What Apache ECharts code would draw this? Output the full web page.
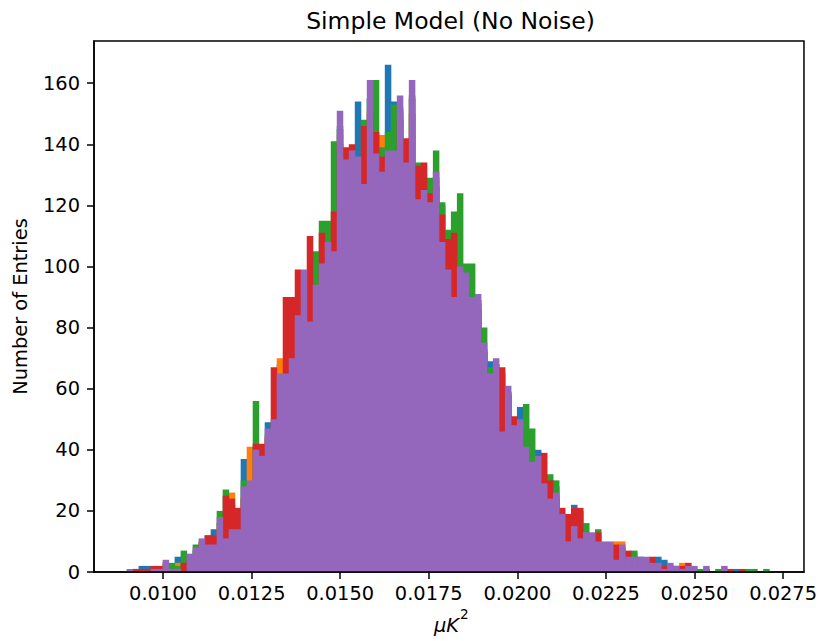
<!DOCTYPE html>
<html>
<head>
<meta charset="utf-8">
<script src="https://cdn.jsdelivr.net/npm/echarts@6/dist/echarts.min.js"></script>
<style>html,body{margin:0;padding:0;background:#fff;}#chart{width:820px;height:641px;}</style>
</head>
<body>
<div id="chart"></div>
<script>
// ---- data (histogram counts per bin, shared bin grid) ----
const binStart = 0.0089715;
const binWidth = 0.0001695;

const xTickValues = [0.0100, 0.0125, 0.0150, 0.0175, 0.0200, 0.0225, 0.0250, 0.0275];
const yTickValues = [0, 20, 40, 60, 80, 100, 120, 140, 160];

const blueCounts = [0,1,2,2,1,1,3,1,5,2,
 5,7,10,12,14,16,20,22,13,37,
 35,39,37,49,48,68,62,67,81,96,
 80,92,100,105,103,145,131,135,154,125,
 155,135,141,166,154,152,131,156,121,123,
 119,129,120,97,89,98,95,88,89,73,
 69,68,45,59,47,54,40,35,40,28,
 23,28,18,9,22,20,12,12,10,9,
 9,4,8,4,5,5,4,4,5,4,
 2,2,1,1,1,0,1,0,0,1,
 0,1];

const orangeCounts = [0,0,1,1,1,1,3,1,3,2,
 5,7,10,11,10,16,20,26,14,25,
 41,38,36,44,46,70,62,66,80,95,
 78,90,98,104,102,143,130,134,130,124,
 152,133,143,135,134,150,130,155,120,122,
 118,128,105,95,88,96,94,87,88,72,
 63,67,44,58,46,47,39,34,36,28,
 23,25,18,9,14,10,12,12,9,9,
 9,10,10,4,6,4,4,2,2,1,
 2,1,3,1,1,0,1,0,0,1];

const greenCounts = [0,0,0,0,0,1,2,3,2,7,
 5,9,10,8,8,20,27,22,13,30,
 29,56,36,45,48,62,64,68,80,96,
 80,105,115,115,141,146,132,135,133,148,
 155,161,139,144,153,151,140,155,134,120,
 129,138,121,112,118,124,101,101,88,80,
 67,68,65,59,46,48,55,47,35,32,
 32,30,18,9,14,10,16,12,14,9,
 9,4,8,4,7,4,4,2,2,1,
 2,2,1,1,1,1,1,0,1,1,
 0,0,0,1,1,0,1];

const redCounts = [0,1,1,1,2,2,2,1,0,3,
 4,6,9,12,12,14,25,24,21,24,
 28,42,42,44,67,60,90,90,99,92,
 110,90,111,104,118,140,139,140,130,146,
 150,144,136,132,135,148,142,150,133,134,
 124,126,117,109,111,95,92,88,86,72,
 64,66,67,58,51,47,40,34,36,39,
 30,24,21,19,21,21,12,11,13,9,
 8,9,7,7,4,4,4,5,2,2,
 2,1,2,3,1,0,1,0,0,1,
 1,0,1];

const purpleCounts = [1,0,0,0,1,1,4,1,1,0,
 6,8,11,9,9,18,11,14,14,28,
 30,40,38,47,50,65,65,70,84,99,
 82,94,101,108,105,151,135,138,136,127,
 161,137,131,138,138,156,134,161,122,125,
 121,131,108,99,90,100,98,90,91,75,
 65,70,46,61,48,50,41,36,38,29,
 24,26,19,10,15,11,13,13,10,10,
 10,4,9,5,5,5,5,3,3,1,
 3,2,1,2,2,0,2,0,0,2];

const seriesDefs = [
  { name: 'blue', color: '#1f77b4', counts: blueCounts },
  { name: 'orange', color: '#ff7f0e', counts: orangeCounts },
  { name: 'green', color: '#2ca02c', counts: greenCounts },
  { name: 'red', color: '#d62728', counts: redCounts },
  { name: 'purple', color: '#9467bd', counts: purpleCounts }
];

const xMin = 0.0080524, xMax = 0.02809;
const yMin = 0, yMax = 173.8;

function toBars(counts) {
  const out = [];
  counts.forEach((c, k) => {
    if (c > 0) out.push([binStart + k * binWidth, binStart + (k + 1) * binWidth, c]);
  });
  return out;
}

const FONT = '"DejaVu Sans", "Liberation Sans", sans-serif';

const chart = echarts.init(document.getElementById('chart'), null, { renderer: 'svg' });

const option = {
  animation: false,
  backgroundColor: '#ffffff',
  grid: { left: 94, top: 41, width: 713, height: 531, show: true, borderColor: '#000', borderWidth: 1.5, backgroundColor: 'transparent', containLabel: false },
  xAxis: {
    type: 'value', min: xMin, max: xMax, z: 10,
    axisLine: { show: true, onZero: false, lineStyle: { color: '#000', width: 1.5 } },
    axisTick: { show: true, inside: false, length: 7, lineStyle: { color: '#000', width: 1.5 }, customValues: xTickValues },
    axisLabel: { show: true, customValues: xTickValues, formatter: v => Number(v).toFixed(4), color: '#000', fontSize: 19.4, fontFamily: FONT, margin: 12 },
    splitLine: { show: false }
  },
  yAxis: {
    type: 'value', min: yMin, max: yMax, z: 10,
    axisLine: { show: true, onZero: false, lineStyle: { color: '#000', width: 1.5 } },
    axisTick: { show: true, inside: false, length: 7, lineStyle: { color: '#000', width: 1.5 }, customValues: yTickValues },
    axisLabel: { show: true, customValues: yTickValues, formatter: v => String(Math.round(v)), color: '#000', fontSize: 19.4, fontFamily: FONT, margin: 14 },
    splitLine: { show: false }
  },
  series: seriesDefs.map((s, i) => ({
    type: 'custom',
    name: s.name,
    z: 2 + i,
    coordinateSystem: 'cartesian2d',
    encode: { x: [0, 1], y: 2 },
    data: toBars(s.counts),
    renderItem: function (params, api) {
      const p0 = api.coord([api.value(0), api.value(2)]);
      const p1 = api.coord([api.value(1), 0]);
      return {
        type: 'rect',
        shape: { x: p0[0], y: p0[1], width: p1[0] - p0[0] + 0.5, height: p1[1] - p0[1] },
        style: { fill: s.color }
      };
    }
  })),
  graphic: [
    { type: 'text', x: 450.5, y: 21, style: { text: 'Simple Model (No Noise)', fontSize: 23.5, fontFamily: FONT, fill: '#000', align: 'center', verticalAlign: 'middle' } },
    { type: 'text', x: 20.5, y: 306.5, rotation: Math.PI / 2, style: { text: 'Number of Entries', fontSize: 19.4, fontFamily: FONT, fill: '#000', align: 'center', verticalAlign: 'middle' } },
    { type: 'text', x: 459, y: 625, style: { text: 'μK', fontSize: 19.4, fontFamily: FONT, fontStyle: 'italic', fill: '#000', align: 'right', verticalAlign: 'middle' } },
    { type: 'text', x: 460, y: 614, style: { text: '2', fontSize: 13.6, fontFamily: FONT, fill: '#000', align: 'left', verticalAlign: 'middle' } }
  ]
};
chart.setOption(option);
</script>
</body>
</html>
